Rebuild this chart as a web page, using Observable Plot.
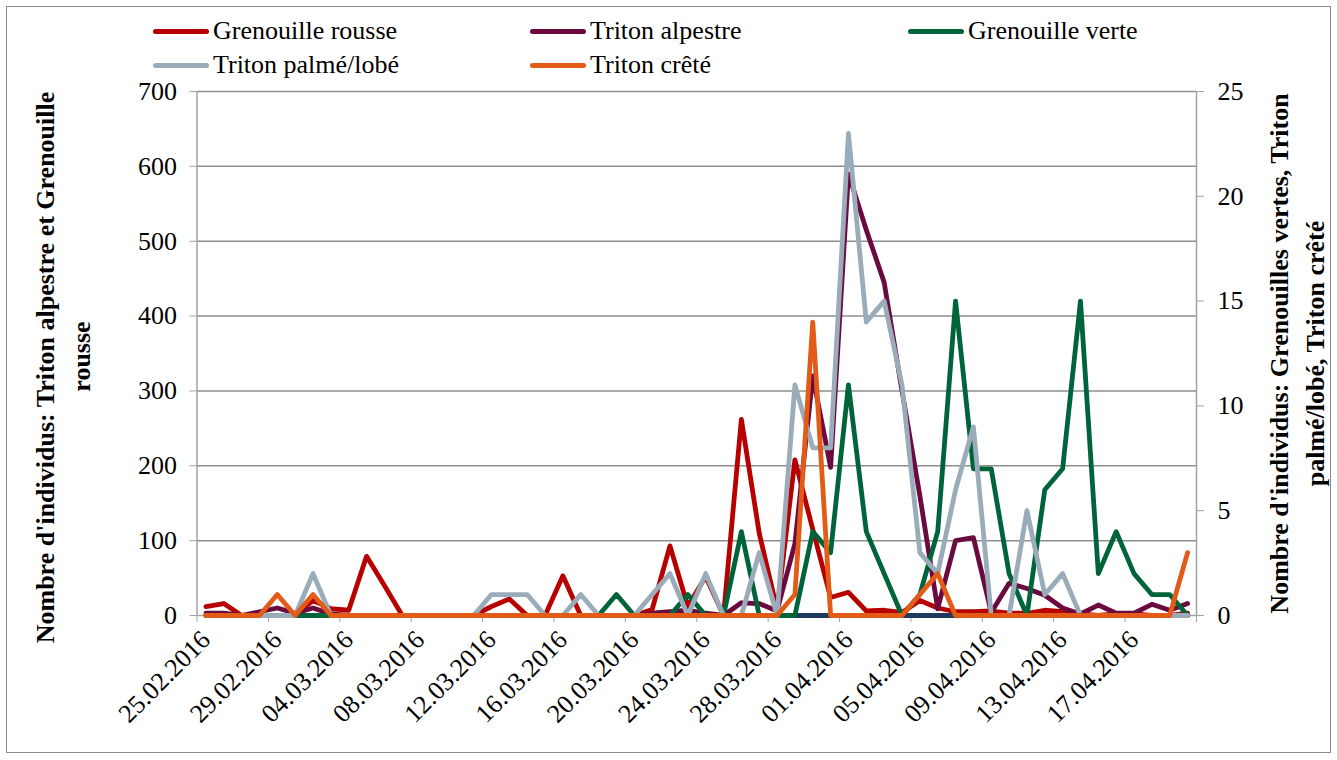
<!DOCTYPE html>
<html><head><meta charset="utf-8">
<script src="https://cdn.jsdelivr.net/npm/d3@7"></script>
<script src="https://cdn.jsdelivr.net/npm/@observablehq/plot@0.6"></script>
<style>
body{margin:0;background:#fff;}
#wrap{position:relative;width:1337px;height:760px;overflow:hidden;background:#fff;font-family:"Liberation Serif","Times New Roman",serif;}
#border{position:absolute;left:6px;top:6px;width:1325px;height:747px;border:1.5px solid #8a8a8a;box-sizing:border-box;pointer-events:none;}
#legend{position:absolute;left:0;top:0;width:1337px;height:80px;}
.item{position:absolute;height:30px;display:flex;align-items:center;font-size:26px;line-height:30px;color:#000;white-space:nowrap;}
.sw{width:56px;height:5px;border-radius:2.5px;margin-right:4px;}
#chart{position:absolute;left:0;top:80px;}
</style></head><body>
<div id="wrap"><div id="legend"></div><div id="chart"></div><div id="border"></div></div>
<script>
// Category labels (daily samples)
const dates = ["25.02.2016","26.02.2016","27.02.2016","28.02.2016","29.02.2016","01.03.2016","02.03.2016","03.03.2016","04.03.2016","05.03.2016",
"06.03.2016","07.03.2016","08.03.2016","09.03.2016","10.03.2016","11.03.2016","12.03.2016","13.03.2016","14.03.2016","15.03.2016",
"16.03.2016","17.03.2016","18.03.2016","19.03.2016","20.03.2016","21.03.2016","22.03.2016","23.03.2016","24.03.2016","25.03.2016",
"26.03.2016","27.03.2016","28.03.2016","29.03.2016","30.03.2016","31.03.2016","01.04.2016","02.04.2016","03.04.2016","04.04.2016",
"05.04.2016","06.04.2016","07.04.2016","08.04.2016","09.04.2016","10.04.2016","11.04.2016","12.04.2016","13.04.2016","14.04.2016",
"15.04.2016","16.04.2016","17.04.2016","18.04.2016","19.04.2016","20.04.2016"];

// Left axis series
const grenouilleRousse = [12,16,0,0,0,0,20,9,7,79, 40,0,0,0,0,0,12,22,0,0, 53,0,0,0,0,8,93,12,52,0, 262,110,8,208,115,24,31,6,7,4, 20,10,5,5,6,3,3,7,5,2, 0,2,2,0,0,3];
const tritonAlpestre = [3,3,0,5,10,3,10,2,0,0, 0,0,0,0,0,0,0,0,0,0, 0,0,0,0,0,3,5,7,3,0, 17,16,6,96,320,198,590,515,445,300, 160,9,100,104,4,43,36,27,10,2, 14,3,3,15,7,16];
// Right axis series
const autre = [0,0,0,0,0,0,0,0,0,0, 0,0,0,0,0,0,0,0,0,0, 0,0,0,0,0,0,0,0,0,0, 0,0,0,0,0,0,0,0,0,0, 0,0,0,0,0,0,0,0,0,0, 0,0,0,0,0,0];
const grenouilleVerte = [0,0,0,0,0,0,0,0,0,0, 0,0,0,0,0,0,0,0,0,0, 0,0,0,1,0,0,0,1,0,0, 4,0,0,0,4,3,11,4,2,0, 1,4,15,7,7,2,0,6,7,15, 2,4,2,1,1,0];
const tritonPalme = [0,0,0,0,0,0,2,0,0,0, 0,0,0,0,0,0,1,1,1,0, 0,1,0,0,0,1,2,0,2,0, 0,3,0,11,8,8,23,14,15,11, 3,2,6,9,0,0,5,1,2,0, 0,0,0,0,0,0];
const tritonCrete = [0,0,0,0,1,0,1,0,0,0, 0,0,0,0,0,0,0,0,0,0, 0,0,0,0,0,0,0,0,0,0, 0,0,0,1,14,0,0,0,0,0, 1,2,0,0,0,0,0,0,0,0, 0,0,0,0,0,3];

const leftTicks = [0,100,200,300,400,500,600,700];
const rightTicks = [0,5,10,15,20,25];
const ratio = 700 / 25;

const series = [
  {name:"Autre", values:autre, axis:"right", color:"#1F3A5F", legend:false},
  {name:"Grenouille rousse", values:grenouilleRousse, axis:"left", color:"#B80000", legend:true},
  {name:"Triton alpestre", values:tritonAlpestre, axis:"left", color:"#6B0A3E", legend:true},
  {name:"Grenouille verte", values:grenouilleVerte, axis:"right", color:"#00643A", legend:true},
  {name:"Triton palmé/lobé", values:tritonPalme, axis:"right", color:"#9AACB9", legend:true},
  {name:"Triton crêté", values:tritonCrete, axis:"right", color:"#E35B17", legend:true}
];

// Legend
const legendPos = {
  "Grenouille rousse":[153,16], "Triton alpestre":[530,16], "Grenouille verte":[908,16],
  "Triton palmé/lobé":[153,50], "Triton crêté":[530,50]
};
const legend = document.getElementById("legend");
for (const s of series.filter(s => s.legend)) {
  const [lx, ly] = legendPos[s.name];
  const it = document.createElement("div");
  it.className = "item";
  it.style.left = lx + "px"; it.style.top = ly + "px";
  const sw = document.createElement("div");
  sw.className = "sw"; sw.style.background = s.color;
  const tx = document.createElement("span");
  tx.textContent = s.name;
  it.appendChild(sw); it.appendChild(tx);
  legend.appendChild(it);
}

const lineMarks = series.map(s => Plot.line(
  s.values.map((v, i) => ({i, v: s.axis === "right" ? v * ratio : v})),
  {x:"i", y:"v", stroke:s.color, strokeWidth:4.8, strokeLinejoin:"round", strokeLinecap:"round"}
));

const axisGray = "#a3a3a3";
const titleStyle = {rotate:-90, textAnchor:"middle", fontWeight:"bold", fontSize:26, fill:"#000"};
const chart = Plot.plot({
  width:1337, height:680,
  marginLeft:196.5, marginRight:141, marginTop:11, marginBottom:145,
  x:{type:"linear", domain:[-0.5, 55.5]},
  y:{domain:[0, 700]},
  style:{fontFamily:"'Liberation Serif','Times New Roman',serif", fontSize:"26px", color:"#000", background:"transparent", overflow:"visible"},
  marks:[
    Plot.ruleY(leftTicks.filter(t => t > 0), {stroke:"#8e8e8e", strokeWidth:1.5}),
    Plot.ruleX([-0.5, 55.5], {stroke:axisGray, strokeWidth:1.5}),
    Plot.ruleY([0], {stroke:axisGray, strokeWidth:1.5}),
    Plot.axisY({ticks:leftTicks, tickSize:7, tickPadding:13, stroke:axisGray, fill:"#000", fontSize:26, label:null}),
    Plot.axisY({anchor:"right", ticks:rightTicks.map(t => t * ratio), tickFormat:d => String(Math.round(d / ratio)), tickSize:7, tickPadding:14, stroke:axisGray, fill:"#000", fontSize:26, label:null}),
    Plot.axisX({ticks:d3.range(-0.5, 56, 4), tickSize:7, tickFormat:() => "", stroke:axisGray, label:null}),
    Plot.axisX({ticks:d3.range(0, 56, 4), tickSize:0, tickPadding:20, tickRotate:-45, tickFormat:i => dates[i], fill:"#000", fontSize:26, label:null}),
    ...lineMarks,
    Plot.text(["Nombre d'individus: Triton alpestre et Grenouille"], {...titleStyle, frameAnchor:"left", dx:-151, dy:14}),
    Plot.text(["rousse"], {...titleStyle, frameAnchor:"left", dx:-115, dy:3}),
    Plot.text(["Nombre d'individus: Grenouilles vertes, Triton\npalmé/lobé, Triton crêté"], {...titleStyle, frameAnchor:"right", dx:98, lineHeight:1.4})
  ]
});
document.getElementById("chart").appendChild(chart);
</script>
</body></html>
